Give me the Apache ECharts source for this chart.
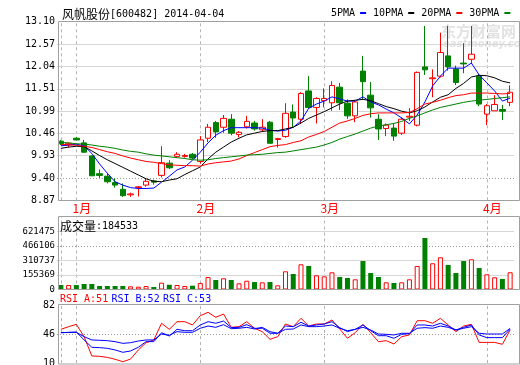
<!DOCTYPE html>
<html><head><meta charset="utf-8">
<script src="https://cdn.jsdelivr.net/npm/echarts@6/dist/echarts.min.js"></script>
<style>html,body{margin:0;padding:0;background:#fff}#c{width:520px;height:365px}</style>
</head><body><div id="c"></div>
<script>
const stockName = '风帆股份', stockCode = '600482', chartDate = '2014-04-04';
const dates = ['2013-12-30','2013-12-31','2014-01-02','2014-01-03','2014-01-06','2014-01-07','2014-01-08','2014-01-09','2014-01-10','2014-01-13','2014-01-14','2014-01-15','2014-01-16','2014-01-17','2014-01-20','2014-01-21','2014-01-22','2014-01-23','2014-02-07','2014-02-10','2014-02-11','2014-02-12','2014-02-13','2014-02-14','2014-02-17','2014-02-18','2014-02-19','2014-02-20','2014-02-21','2014-02-24','2014-02-25','2014-02-26','2014-02-27','2014-02-28','2014-03-03','2014-03-04','2014-03-05','2014-03-06','2014-03-07','2014-03-10','2014-03-11','2014-03-12','2014-03-13','2014-03-14','2014-03-17','2014-03-18','2014-03-19','2014-03-20','2014-03-21','2014-03-24','2014-03-25','2014-03-26','2014-03-27','2014-03-28','2014-03-31','2014-04-01','2014-04-02','2014-04-03','2014-04-04'];
const open  = [10.27,10.18,10.34,10.23,9.92,9.50,9.44,9.29,9.13,9.00,9.17,9.23,9.33,9.46,9.75,9.91,9.91,9.96,9.79,10.34,10.71,10.60,10.79,10.43,10.61,10.70,10.54,10.72,10.31,10.38,10.96,10.79,11.46,11.07,11.23,11.18,11.55,11.17,10.87,11.93,11.36,10.79,10.57,10.58,10.46,10.84,10.65,12.03,11.75,11.81,12.29,11.98,12.12,12.21,11.81,10.91,10.99,11.02,11.19];
const close = [10.21,10.22,10.30,10.01,9.45,9.46,9.31,9.23,8.98,9.02,9.19,9.32,9.30,9.76,9.64,9.96,9.93,9.87,10.30,10.60,10.49,10.81,10.46,10.48,10.74,10.56,10.60,10.22,10.33,10.93,10.82,11.40,11.07,11.28,11.28,11.59,11.18,10.87,11.20,11.68,11.06,10.56,10.65,10.39,10.79,10.86,11.90,11.96,11.77,12.37,12.03,11.66,12.10,12.33,11.15,11.11,11.14,10.98,11.43];
const low   = [10.18,10.12,10.29,9.99,9.45,9.40,9.27,9.17,8.95,8.95,8.96,9.19,9.24,9.41,9.61,9.87,9.88,9.84,9.74,10.25,10.35,10.47,10.41,10.36,10.57,10.52,10.49,10.22,10.12,10.35,10.60,10.68,11.04,10.69,11.07,10.99,11.01,10.80,10.72,11.26,10.83,10.30,10.39,10.28,10.42,10.75,10.62,11.84,11.31,11.78,11.94,11.60,11.88,12.10,11.10,10.65,10.99,10.77,11.10];
const high  = [10.30,10.24,10.37,10.30,9.93,9.60,9.51,9.39,9.27,9.05,9.20,9.39,9.36,10.15,9.82,10.01,9.97,9.99,10.39,10.68,10.75,10.89,10.91,10.51,10.87,10.75,10.79,10.75,10.35,11.17,11.14,11.43,11.81,11.31,11.52,11.69,11.65,11.26,11.24,12.29,11.67,10.91,10.69,10.68,10.83,11.05,11.92,13.00,11.97,12.84,13.00,12.06,12.59,13.00,11.86,11.15,11.36,11.13,11.59];
const ma5  = [10.16,10.18,10.20,10.16,9.98,9.73,9.51,9.31,9.23,9.17,9.15,9.15,9.16,9.30,9.44,9.59,9.66,9.82,10.01,10.23,10.41,10.52,10.59,10.59,10.59,10.59,10.58,10.53,10.51,10.53,10.60,10.75,11.05,11.15,11.22,11.32,11.27,11.22,11.22,11.32,11.20,11.13,11.03,10.94,10.82,10.68,10.89,11.20,11.58,11.81,12.00,12.00,12.00,12.12,11.84,11.65,11.46,11.22,11.29];
const ma10 = [10.10,10.13,10.15,10.14,10.04,9.93,9.83,9.74,9.65,9.56,9.47,9.38,9.32,9.31,9.35,9.38,9.48,9.57,9.66,9.85,10.01,10.13,10.25,10.34,10.42,10.46,10.50,10.52,10.52,10.56,10.60,10.70,10.81,10.89,10.97,11.06,11.15,11.22,11.24,11.26,11.23,11.16,11.09,11.04,10.98,10.94,10.99,11.08,11.20,11.31,11.37,11.52,11.64,11.79,11.83,11.82,11.77,11.69,11.65];
const ma20 = [10.19,10.19,10.17,10.15,10.12,10.07,10.02,9.98,9.92,9.87,9.83,9.79,9.77,9.74,9.71,9.70,9.69,9.69,9.68,9.73,9.76,9.78,9.80,9.85,9.93,10.00,10.07,10.14,10.17,10.19,10.24,10.28,10.37,10.43,10.50,10.60,10.70,10.75,10.81,10.88,10.92,10.94,10.94,10.94,10.94,10.95,11.04,11.15,11.19,11.24,11.30,11.35,11.37,11.41,11.41,11.41,11.40,11.39,11.40];
const ma30 = [10.24,10.23,10.21,10.20,10.18,10.15,10.13,10.10,10.06,10.03,10.01,9.97,9.94,9.92,9.90,9.88,9.86,9.83,9.82,9.83,9.86,9.88,9.90,9.92,9.94,9.95,9.96,9.98,10.00,10.01,10.04,10.07,10.10,10.13,10.18,10.24,10.32,10.38,10.44,10.51,10.58,10.63,10.66,10.69,10.74,10.81,10.87,10.94,11.01,11.07,11.11,11.15,11.19,11.22,11.24,11.26,11.28,11.30,11.32];
const volume = [48000,48000,48000,59000,59000,37500,37500,37500,37500,34000,30000,37500,27000,73000,51000,48000,37500,41000,70000,134000,102000,120000,102000,66000,94000,80000,77000,80000,45000,195000,166000,270000,252000,152000,141000,184000,134000,123000,109000,305000,177000,134000,77000,70000,77000,109000,252000,552000,281000,345000,263000,177000,305000,324000,230000,163000,131000,113000,184533];
const rsiA = [51.8,55.1,58.0,42.7,18.7,18.3,17.0,14.6,11.6,14.9,26.2,35.2,38.6,59.3,51.8,61.3,61.3,57.2,68.7,72.9,66.7,70.8,54.3,55.1,61.3,53.1,48.9,39.4,42.7,58.4,55.1,65.5,55.9,58.4,58.4,63.4,52.2,40.7,47.6,58.0,47.6,36.5,37.7,33.6,42.7,44.8,62.5,62.5,59.3,65.5,57.2,48.9,55.9,58.0,35.6,35.6,35.6,33.2,51];
const rsiB = [47.6,48,48.5,38.6,29.5,29.1,28.2,26.2,23.3,24.9,29.5,36.5,36.5,47.6,43.5,51.8,50.1,50.1,57.2,61.3,59.3,62.1,53.9,54.3,57.6,53.1,53.1,46.9,46.9,55.9,55.1,60.5,55.9,57.2,58.4,61.3,53.9,48.9,51.8,57.2,50.1,43.9,43.9,40.7,45.6,46.4,57.2,57.2,55.9,59.3,55.9,51.0,54.3,57.2,44.8,41.5,41.5,41.5,52];
const rsiC = [47.6,48,48,42.7,38.6,38.2,37.7,36.5,34.4,35.2,37.3,38.6,38.6,46.0,44.4,48.9,48.1,48.1,53.1,55.9,54.3,57.6,52.6,53.1,54.3,52.2,54.3,48.9,46.9,51.8,52.2,57.2,55.1,55.1,55.9,57.2,53.1,50.1,51.8,54.3,51.0,46.0,45.6,44.8,46.9,46.9,53.1,53.9,53.1,55.9,54.3,51.0,53.1,55.1,46.9,46.0,46.0,46.0,53];
const priceTicks = [8.87, 9.40, 9.93, 10.46, 10.99, 11.51, 12.04, 12.57, 13.10];
const volTicks = [0, 155369, 310737, 466106, 621475];
const rsiTicks = [10, 46, 82];
const maNames = ['5PMA', '10PMA', '20PMA', '30PMA'];

const MONO = "'DejaVu Sans Mono', monospace";
const CJK = "'Noto Sans CJK SC', sans-serif";
const RED = '#ff0000', GREEN = '#008000', BLUE = '#0000ff', BLACK = '#000000';

const monthStart = dates.map((d, i) => i > 0 && d.slice(5, 7) !== dates[i - 1].slice(5, 7));
const guideIdx = [0].concat(dates.map((d, i) => i).filter(i => monthStart[i]));

const vStyle = { color: '#b4b4b4', type: [3, 3], width: 1 };
const hStyle = { color: '#d6d6d6', type: 'solid', width: 1 };
const dotStyle = { color: '#9a9a9a', type: [1, 2], width: 1 };

function guides(ticks, dotted) {
  const data = guideIdx.map(i => ({ xAxis: dates[i], lineStyle: vStyle }));
  ticks.slice(1, -1).forEach(v => data.push({ yAxis: v, lineStyle: v === dotted ? dotStyle : hStyle }));
  return { silent: true, symbol: ['none', 'none'], label: { show: false }, z: 1, animation: false, data };
}
function helper(g) {
  return { type: 'line', xAxisIndex: g, yAxisIndex: g, data: dates.map(() => null), silent: true, z: 1, symbol: 'none' };
}
const grids = [
  { left: 57, width: 457, top: 21.7, height: 178.6 },
  { left: 57, width: 457, top: 217, height: 72.5 },
  { left: 57, width: 457, top: 305, height: 58 }
].map(g => Object.assign(g, { containLabel: false, outerBoundsMode: 'none' }));
const xAxes = grids.map((g, i) => ({
  type: 'category', gridIndex: i, data: dates, boundaryGap: true,
  axisLine: { show: false }, axisTick: { show: false }, splitLine: { show: false },
  axisLabel: i === 0 ? {
    show: true, interval: (idx) => monthStart[idx], align: 'center', margin: 2,
    formatter: (v) => '{m|' + parseInt(v.slice(5, 7), 10) + '月}',
    rich: { m: { color: RED, fontFamily: CJK, fontSize: 12, padding: [0, 0, 0, 11] } },
    color: RED, fontFamily: CJK, fontSize: 12
  } : { show: false }
}));
function yAx(i, ticks, fmt, fs, max) {
  const min = ticks[0];
  const interval = (ticks[ticks.length - 1] - ticks[0]) / (ticks.length - 1);
  return {
    type: 'value', gridIndex: i, min, max: max, interval,
    axisLine: { show: false }, axisTick: { show: false }, splitLine: { show: false },
    axisLabel: {
      formatter: (v) => {
        const k = Math.round((v - min) / interval);
        return k >= 0 && k < ticks.length && Math.abs(v - (min + k * interval)) < interval * 0.02 ? fmt(ticks[k]) : '';
      },
      hideOverlap: false,
      margin: 2, color: '#000', fontFamily: MONO, fontSize: fs
    }
  };
}
const yAxes = [
  yAx(0, priceTicks, v => v.toFixed(2), 10, priceTicks[priceTicks.length - 1]),
  yAx(1, volTicks, v => String(v), 9, 776845),
  yAx(2, rsiTicks, v => String(v), 10, rsiTicks[rsiTicks.length - 1])
];

const maSeries = [ma5, ma10, ma20, ma30].map((d, k) => ({
  type: 'line', name: maNames[k], xAxisIndex: 0, yAxisIndex: 0, data: d, symbol: 'none',
  z: 4, lineStyle: { width: 1, color: [BLUE, BLACK, RED, GREEN][k] }, itemStyle: { color: [BLUE, BLACK, RED, GREEN][k] }
}));
const rsiSeries = [rsiA, rsiB, rsiC].map((d, k) => ({
  type: 'line', name: ['RSI_A', 'RSI_B', 'RSI_C'][k], xAxisIndex: 2, yAxisIndex: 2, data: d, symbol: 'none',
  z: 4, lineStyle: { width: 1, color: [RED, BLUE, BLUE][k] }
}));

const last = dates.length - 1;
const option = {
  animation: false,
  backgroundColor: '#ffffff',
  grid: grids,
  xAxis: xAxes,
  yAxis: yAxes,
  legend: {
    data: maNames, left: 331, top: 8, align: 'right', icon: 'rect', itemWidth: 6, itemHeight: 2,
    itemGap: 7, padding: 0, selectedMode: false,
    textStyle: { fontFamily: MONO, fontSize: 10, color: '#000' }
  },
  graphic: { elements: [
    { type: 'text', left: 441, top: 24, z: 0, silent: true,
      style: { text: '东方财富网', font: "bold 15px 'Noto Sans CJK SC'", fill: '#e2e2e2' } },
    { type: 'text', left: 443, top: 39, z: 0, silent: true,
      style: { text: 'eastmoney.com', font: "italic bold 10px 'DejaVu Sans'", fill: '#e2e2e2' } },
    { type: 'text', left: 62, top: 8, z: 10, style: {
      text: '{a|' + stockName + '}{b|[' + stockCode + '] ' + chartDate + '}',
      rich: { a: { fontFamily: CJK, fontSize: 12, fill: '#000' }, b: { fontFamily: MONO, fontSize: 10, fill: '#000' } } } },
    { type: 'text', left: 60, top: 220, z: 10, style: {
      text: '{a|成交量}{b|:' + volume[last] + '}',
      rich: { a: { fontFamily: CJK, fontSize: 12, fill: '#000' }, b: { fontFamily: MONO, fontSize: 10, fill: '#000' } } } },
    { type: 'text', left: 60, top: 293, z: 10, style: {
      text: '{r|RSI_A:' + Math.round(rsiA[last]) + '} {b|RSI_B:' + Math.round(rsiB[last]) + '} {b|RSI_C:' + Math.round(rsiC[last]) + '}',
      rich: { r: { fontFamily: MONO, fontSize: 10, fill: RED }, b: { fontFamily: MONO, fontSize: 10, fill: BLUE } } } },
    { type: 'rect', z: 10, silent: true, shape: { x: 58.5, y: 21.5, width: 461, height: 179 }, style: { fill: 'none', stroke: '#a0a0a0', lineWidth: 1 } },
    { type: 'rect', z: 10, silent: true, shape: { x: 58.5, y: 216.5, width: 461, height: 73 }, style: { fill: 'none', stroke: '#a0a0a0', lineWidth: 1 } },
    { type: 'rect', z: 10, silent: true, shape: { x: 58.5, y: 304.5, width: 461, height: 59.5 }, style: { fill: 'none', stroke: '#a0a0a0', lineWidth: 1 } }
  ] },
  series: [
    Object.assign(helper(0), { markLine: guides(priceTicks, priceTicks[1]) }),
    {
      type: 'candlestick', name: 'K', xAxisIndex: 0, yAxisIndex: 0, z: 3, barWidth: 6,
      data: dates.map((d, i) => [open[i], close[i], low[i], high[i]]),
      itemStyle: { color: '#ffffff', color0: GREEN, borderColor: RED, borderColor0: GREEN, borderWidth: 1 }
    },
    ...maSeries,
    Object.assign(helper(1), { markLine: guides(volTicks.concat([776845]), volTicks[3]) }),
    {
      type: 'bar', name: 'VOL', xAxisIndex: 1, yAxisIndex: 1, z: 3, barWidth: 5,
      data: volume.map((v, i) => ({
        value: v,
        itemStyle: close[i] >= open[i]
          ? { color: '#ffffff', borderColor: RED, borderWidth: 1 }
          : { color: GREEN, borderColor: GREEN, borderWidth: 0 }
      }))
    },
    Object.assign(helper(2), { markLine: guides(rsiTicks, rsiTicks[1]) }),
    ...rsiSeries
  ]
};
const chart = echarts.init(document.getElementById('c'), null, { renderer: 'canvas' });
chart.setOption(option);
</script>
</body></html>
